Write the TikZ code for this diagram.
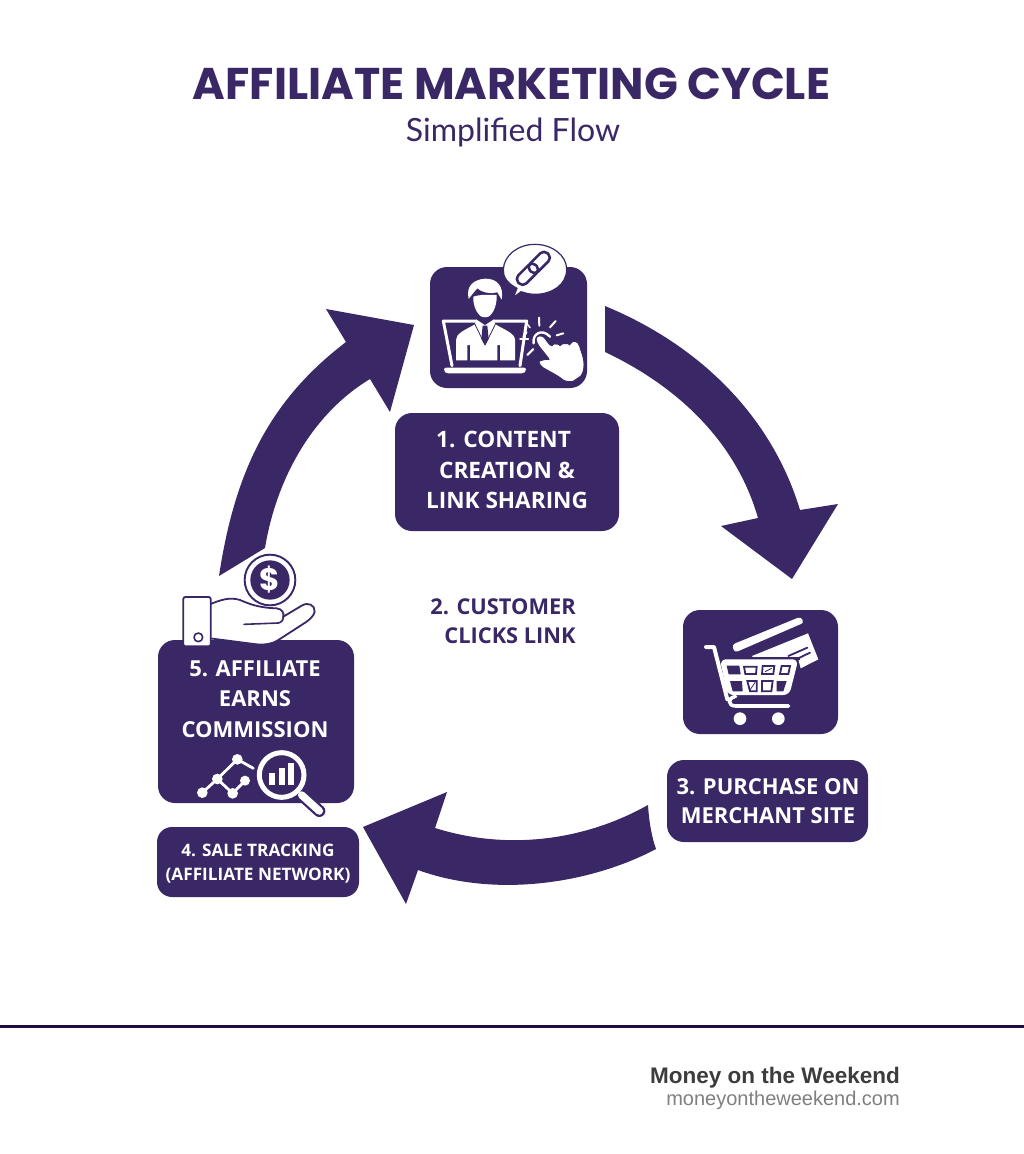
\documentclass[tikz,border=0pt]{standalone}
\usepackage{fontspec}
\setmainfont{Open Sans}
\newfontfamily\titlefont{Poppins}
\newfontfamily\labfont{Open Sans}
\newfontfamily\subfont{Lato}
\newfontfamily\footfont{Liberation Sans}
\definecolor{pur}{HTML}{3A2766}
\definecolor{rulec}{HTML}{1E0B40}
\definecolor{footdark}{HTML}{3C3C3C}
\definecolor{footgray}{HTML}{7F7F7F}
\tikzset{
  box/.style={fill=pur,rounded corners=#1},
  box/.default=17pt,
  boxtext/.style={text=white,align=center,inner sep=0pt,font=\labfont\bfseries\fontsize{22}{30.5}\selectfont},
  darktext/.style={text=pur,align=right,inner sep=0pt,font=\labfont\bfseries\fontsize{21.8}{29}\selectfont},
  zoomed/.style={x=0.33333pt,y=-0.33333pt},
  wline/.style={draw=white,line cap=round,line join=round},
  dline/.style={draw=pur,line cap=round,line join=round},
}
\begin{document}
\begin{tikzpicture}[x=1pt,y=-1pt]
\useasboundingbox (0,0) rectangle (1024,1154);
\fill[white] (0,0) rectangle (1024,1154);

% title
\node[inner sep=0pt,text=pur,font=\titlefont\bfseries\fontsize{44.4}{52}\selectfont] (title) at (511.5,84) {AFFILIATE MARKETING CYCLE};
\node[inner sep=0pt,text=pur,font=\subfont\fontsize{32}{36}\selectfont] (subtitle) at (513,132) {Simplified Flow};

% arrows
\fill[pur] (605,306) .. controls (697,344) and (771,414) .. (800,510)
  -- (838,504) -- (792,579) -- (721,526) -- (758,518)
  .. controls (736,441) and (677,386) .. (605,352) -- cycle;
\fill[pur] (648,805) .. controls (582,842) and (505,850) .. (435,828)
  -- (447,792) -- (363,827) -- (406,904) -- (418,870)
  .. controls (495,898) and (590,884) .. (656,849)
  .. controls (652,838) and (649,822) .. (648,805) -- cycle;
\fill[pur] (219,576) .. controls (235,470) and (270,400) .. (346,342)
  -- (326,309) -- (414,325) -- (390,412) -- (370,379)
  .. controls (315,412) and (277,475) .. (265,548) -- cycle;

% boxes
\fill[box] (430,267) rectangle (587,388);
\fill[box] (395,413) rectangle (619,531);
\fill[box] (683,610) rectangle (838,734);
\fill[box] (667,760) rectangle (868,842);
\fill[box] (158,640) rectangle (354,803);
\fill[box=15pt] (157,827) rectangle (359,897);

% labels
\node[boxtext,font=\labfont\bfseries\fontsize{22.6}{30.5}\selectfont] (l1) at (507,470) {1. CONTENT\hspace*{7pt}\\CREATION \&\\LINK SHARING};
\node[darktext] (l2) at (503,621) {2. CUSTOMER\\CLICKS LINK};
\node[boxtext,font=\labfont\bfseries\fontsize{22}{28.5}\selectfont] (l3) at (768,801) {3. PURCHASE ON\\MERCHANT SITE};
\node[boxtext,font=\labfont\bfseries\fontsize{17.2}{24}\selectfont] (l4) at (258,864) {4. SALE TRACKING\\(AFFILIATE NETWORK)};
\node[boxtext] (l5) at (255,699) {5. AFFILIATE\\EARNS\\COMMISSION};

% icon 1: person at laptop
\begin{scope}[shift={(420,235)},zoomed]
  % speech bubble
  \filldraw[fill=white,draw=pur,line width=1.2pt] (280,188) -- (291,160)
     .. controls (262,145) and (248,125) .. (250,103)
     .. controls (252,60) and (295,28) .. (345,28)
     .. controls (395,28) and (440,60) .. (440,103)
     .. controls (440,150) and (395,178) .. (345,178)
     .. controls (325,178) and (310,172) .. (303,170) -- cycle;
  \begin{scope}[shift={(340,100)},rotate=45]
    \draw[dline,line width=2.6pt,rounded corners=5pt] (-12,-17) rectangle (62,17);
    \draw[dline,line width=2.6pt,rounded corners=5pt] (12,-17) rectangle (-62,17);
  \end{scope}
  % hair and face
  \fill[white] (146,192) .. controls (136,150) and (165,133) .. (195,131)
     .. controls (232,130) and (252,155) .. (245,194) -- (232,172)
     .. controls (210,178) and (185,172) .. (172,160) .. controls (165,168) and (156,178) .. (146,192) -- cycle;
  \fill[white] (160,185) .. controls (175,180) and (190,178) .. (230,180)
     .. controls (232,215) and (215,248) .. (195,248)
     .. controls (175,248) and (158,215) .. (160,185) -- cycle;
  % laptop
  \draw[wline,line width=3pt] (96,392) -- (70,258) -- (320,258) -- (300,392);
  \fill[white,rounded corners=2pt] (72,398) -- (318,398) -- (318,408) -- (312,415) -- (78,415) -- (72,408) -- cycle;
  % body
  \fill[white] (108,376) -- (108,315) .. controls (108,295) and (135,285) .. (165,268)
     -- (170,250) -- (220,250) -- (226,268)
     .. controls (255,285) and (285,295) .. (285,315) -- (285,376) -- (240,376) -- (240,330) -- (232,330) -- (232,376)
     -- (150,376) -- (150,330) -- (142,330) -- (142,376) -- cycle;
  \fill[pur] (168,252) -- (195,270) -- (222,252) -- (222,247) -- (168,247) -- cycle;
  \fill[pur] (188,272) -- (202,272) -- (206,312) -- (195,330) -- (184,312) -- cycle;
  \draw[dline,line width=0.8pt] (165,268) -- (195,330) -- (226,268);
  % hand
  \draw[wline,line width=1.5pt] (318,262) -- (330,278);
  \draw[wline,line width=1.5pt] (300,312) -- (325,312);
  \draw[wline,line width=2pt] (320,292) -- (310,305);
  \draw[wline,line width=2pt] (357,248) -- (358,272);
  \draw[wline,line width=2pt] (407,258) -- (390,277);
  \draw[wline,line width=2pt] (430,295) -- (410,301);
  \draw[wline,line width=2pt] (340,342) -- (322,360);
  \draw[wline,line width=2.4pt] (341,325) .. controls (336,298) and (365,278) .. (390,305);
  \filldraw[fill=white,draw=pur,line width=1pt,rounded corners=4pt] (350,325)
     .. controls (346,300) and (368,300) .. (380,318)
     -- (397,338) .. controls (402,326) and (415,328) .. (420,338)
     .. controls (428,323) and (445,328) .. (448,336)
     .. controls (458,313) and (475,318) .. (482,345)
     .. controls (497,385) and (492,417) .. (470,432)
     .. controls (455,442) and (435,440) .. (420,427)
     -- (358,392) .. controls (356,377) and (380,372) .. (392,378) -- cycle;
\end{scope}

% icon 3: cart
\begin{scope}[shift={(670,600)},zoomed]
  \fill[white,rounded corners=3pt] (186,134) -- (392,50) -- (402,68) -- (194,158) -- cycle;
  \fill[white] (246,168) -- (414,100) -- (445,178) -- (392,205) -- (385,178) -- (250,172) -- cycle;
  \draw[dline,line width=1.8pt] (355,168) -- (412,143);
  \draw[dline,line width=1.8pt] (366,184) -- (420,158);
  \fill[pur] (150,172) rectangle (390,180);
  \draw[wline,line width=4pt] (108,141) -- (132,141) -- (172,298);
  \fill[white,rounded corners=6pt] (150,178) -- (385,178) -- (358,285) -- (172,285) -- cycle;
  \fill[pur] (170,197) -- (208,197) -- (212,223) -- (176,223) -- cycle;
  \fill[pur] (180,243) -- (216,243) -- (218,274) -- (188,274) -- cycle;
  \fill[pur] (320,243) -- (350,243) -- (340,274) -- (320,274) -- cycle;
  \draw[pur,line width=1.8pt,fill=white] (222,200) -- (260,200) -- (258,222) -- (226,222) -- cycle;
  \draw[pur,line width=1.8pt,fill=white] (278,198) -- (313,198) -- (310,222) -- (276,222) -- cycle;
  \draw[pur,line width=1.8pt,fill=white] (335,198) -- (360,198) -- (355,222) -- (330,222) -- cycle;
  \draw[pur,line width=1.8pt,fill=white] (232,243) -- (260,243) -- (260,274) -- (240,274) -- cycle;
  \draw[pur,line width=1.8pt,fill=white] (276,243) -- (308,243) -- (304,274) -- (276,274) -- cycle;
  \draw[pur,line width=0.8pt] (240,270) -- (256,246);
  \draw[pur,line width=0.8pt] (285,215) -- (305,205);
  \draw[wline,line width=3.6pt] (197,290) .. controls (172,292) and (172,318) .. (197,318) -- (356,318);
  \fill[pur] (195,295) rectangle (358,313);
  \fill[white] (210,356) circle[radius=19];
  \fill[white] (325,356) circle[radius=19];
\end{scope}

% icon 5: hand and coin
\begin{scope}[shift={(150,545)},zoomed]
  \filldraw[fill=white,draw=pur,line width=1.8pt] (180,178)
     .. controls (210,165) and (240,155) .. (270,165)
     .. controls (295,175) and (320,188) .. (380,190)
     .. controls (398,192) and (402,205) .. (400,215)
     -- (455,182) .. controls (475,170) and (495,180) .. (494,200)
     .. controls (492,212) and (480,222) .. (470,230)
     -- (385,285) .. controls (365,298) and (345,300) .. (320,298)
     -- (180,280) -- cycle;
  \draw[dline,line width=1.6pt] (282,238) -- (385,234) .. controls (395,232) and (400,225) .. (400,215);
  \filldraw[fill=white,draw=pur,line width=1.8pt,rounded corners=2pt] (100,156) rectangle (182,304);
  \draw[dline,line width=1.6pt] (145,277) circle[radius=13];
  \filldraw[fill=white,draw=pur,line width=1.9pt] (360,105) circle[radius=76];
  \fill[pur] (360,105) circle[radius=59];
  \node[text=white,inner sep=0pt,font=\titlefont\bfseries\fontsize{31}{31}\selectfont] (dollar) at (360,105) {\$};
\end{scope}

% icon 4: graph and magnifier
\begin{scope}[shift={(150,740)},zoomed]
  \draw[wline,line width=2.8pt] (157,158) -- (202,117) -- (262,58) -- (310,85);
  \draw[wline,line width=2.8pt] (202,117) -- (248,160) -- (285,122);
  \fill[white] (262,58) circle[radius=16];
  \fill[white] (202,117) circle[radius=16];
  \fill[white] (285,122) circle[radius=15];
  \fill[white] (248,160) circle[radius=16];
  \fill[white] (157,158) circle[radius=16];
  \draw[dline,line width=12pt] (455,165) -- (508,213);
  \draw[wline,line width=7.5pt] (455,165) -- (508,213);
  \draw[white,line width=5pt] (395,105) circle[radius=67];
  \fill[white] (358,100) rectangle (374,135);
  \fill[white] (388,84) rectangle (404,135);
  \fill[white] (415,68) rectangle (431,135);
\end{scope}

% footer
\draw[rulec,line width=3pt] (0,1026) -- (1024,1026);
\node[anchor=east,inner sep=0pt,text=footdark,font=\footfont\bfseries\fontsize{22.5}{28}\selectfont] (brand) at (900,1078) {Money on the Weekend};
\node[anchor=east,inner sep=0pt,text=footgray,font=\footfont\fontsize{20}{24}\selectfont] (site) at (900,1100) {moneyontheweekend.com};
\end{tikzpicture}
\end{document}
